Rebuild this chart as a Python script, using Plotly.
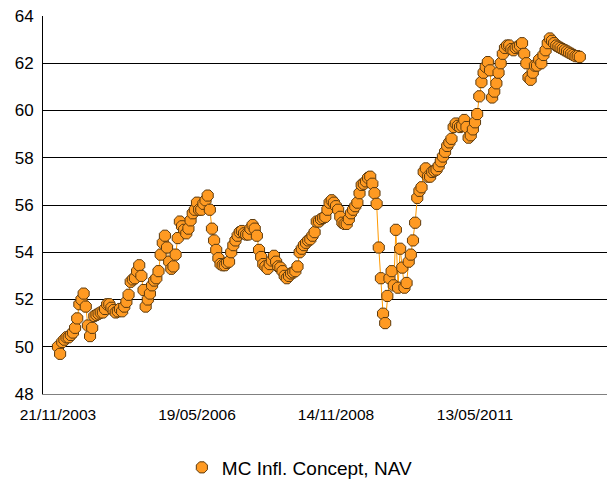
import pandas as pd
import plotly.graph_objects as go

# ---- data ----
series_name = "MC Infl. Concept, NAV"
start_date = "2003-11-21"
step = "14D"
nav = [
    50.0, 49.7, 50.2, 50.3, 50.4, 50.4, 50.5, 50.6, 50.8, 51.2,
    51.8, 52.0, 52.25, 51.7, 50.9, 50.45, 50.8, 51.3, 51.35, 51.4,
    51.45, 51.45, 51.6, 51.8, 51.8, 51.65, 51.55, 51.45, 51.5, 51.6,
    51.5, 51.7, 51.9, 52.2, 52.75, 52.85, 52.9, 53.2, 53.45, 53.0,
    52.4, 51.7, 52.0, 52.25, 52.6, 52.8, 52.9, 53.2, 53.9, 54.4,
    54.7, 54.2, 53.6, 53.3, 53.4, 53.9, 54.6, 55.3, 55.1, 54.95,
    54.8, 55.0, 55.35, 55.65, 55.8, 56.1, 55.8, 55.8, 56.05, 56.2,
    56.4, 55.8, 55.0, 54.5, 54.1, 53.75, 53.5, 53.45, 53.45, 53.55,
    53.6, 54.0, 54.3, 54.5, 54.7, 54.85, 54.9, 54.8, 54.75, 54.75,
    55.0, 55.15, 55.0, 54.7, 54.1, 53.8, 53.5, 53.4, 53.3, 53.5,
    53.65, 53.85, 53.6, 53.4, 53.35, 53.2, 53.0, 52.9, 53.0, 53.1,
    53.15, 53.2, 53.4, 54.0, 54.15, 54.3, 54.4, 54.5, 54.55, 54.7,
    54.85, 55.3, 55.3, 55.4, 55.45, 55.5, 55.8, 56.1, 56.2, 56.1,
    55.95, 55.8, 55.5, 55.25, 55.2, 55.2, 55.4, 55.65, 55.8, 55.95,
    56.1, 56.5, 56.85, 56.9, 57.0, 57.15, 57.2, 56.9, 56.5, 56.05,
    54.2, 52.9, 51.4, 51.0, 52.15, 52.9, 53.2, 52.6, 54.95, 52.5,
    54.15, 53.35, 52.5, 52.7, 53.6, 53.9, 54.5, 55.25, 56.3, 56.6,
    56.75, 57.4, 57.55, 57.2, 57.2, 57.4, 57.45, 57.5, 57.65, 57.85,
    58.05, 58.25, 58.5, 58.65, 58.8, 59.3, 59.45, 59.35, 59.3, 59.35,
    59.6, 59.3, 58.85, 58.95, 59.2, 59.5, 59.85, 60.6, 61.2, 61.6,
    61.85, 62.05, 61.7, 60.55, 60.8, 61.15, 61.6, 62.0, 62.4, 62.65,
    62.75, 62.75, 62.6, 62.55, 62.65, 62.7, 62.75, 62.85, 62.4, 62.0,
    61.4, 61.3, 61.6, 61.9, 61.9, 62.15, 62.0, 62.35, 62.55, 62.85,
    63.05, 62.95, 62.85, 62.75, 62.7, 62.65, 62.6, 62.55, 62.5, 62.45,
    62.4, 62.35, 62.3, 62.3, 62.27,
]
dates = pd.date_range(start=start_date, periods=len(nav), freq=step)

tick_dates = ["2003-11-21", "2006-05-19", "2008-11-14", "2011-05-13"]
tick_labels = ["21/11/2003", "19/05/2006", "14/11/2008", "13/05/2011"]
y_ticks = [48, 50, 52, 54, 56, 58, 60, 62, 64]

# ---- figure ----
t0 = pd.Timestamp(start_date)
x_range = [t0 - pd.Timedelta(days=98), t0 + pd.Timedelta(days=3594)]

marker_style = dict(symbol="octagon", size=12, color="#FF9A22",
                    line=dict(color="#5C3A0E", width=1))

fig = go.Figure()
fig.add_trace(go.Scatter(
    x=dates, y=nav, name=series_name, mode="lines+markers",
    line=dict(color="#FF9900", width=1),
    marker=marker_style, showlegend=False,
))
# legend entry: marker only, as in the reference
fig.add_trace(go.Scatter(
    x=[None], y=[None], name=series_name, mode="markers",
    marker=marker_style, showlegend=True,
))

fig.update_layout(
    width=607, height=479,
    margin=dict(l=43, r=0, t=16, b=85),
    paper_bgcolor="white", plot_bgcolor="white",
    font=dict(family="Liberation Sans, Arial, sans-serif", color="black"),
    showlegend=True,
    legend=dict(orientation="h", xref="container", yref="container",
                x=0.494, xanchor="center", y=0.024, yanchor="middle",
                font=dict(size=19), itemwidth=30),
)
fig.update_xaxes(
    type="date", range=x_range, automargin=False,
    tickmode="array", tickvals=tick_dates, ticktext=tick_labels,
    tickfont=dict(size=15.5), ticks="", ticklabelstandoff=6,
    showgrid=False, showline=True, linecolor="#808080", linewidth=1,
    zeroline=False,
)
fig.update_yaxes(
    range=[48, 64], tickmode="array", tickvals=y_ticks, automargin=False,
    tickfont=dict(size=17), ticks="", ticklabelstandoff=5,
    showgrid=True, gridcolor="black", gridwidth=1,
    showline=True, linecolor="black", linewidth=1, zeroline=False,
)

fig.write_html(
    "out.html",
    config={"displayModeBar": False},
    post_script="document.body.style.margin='0px';document.body.style.overflow='hidden';",
)
